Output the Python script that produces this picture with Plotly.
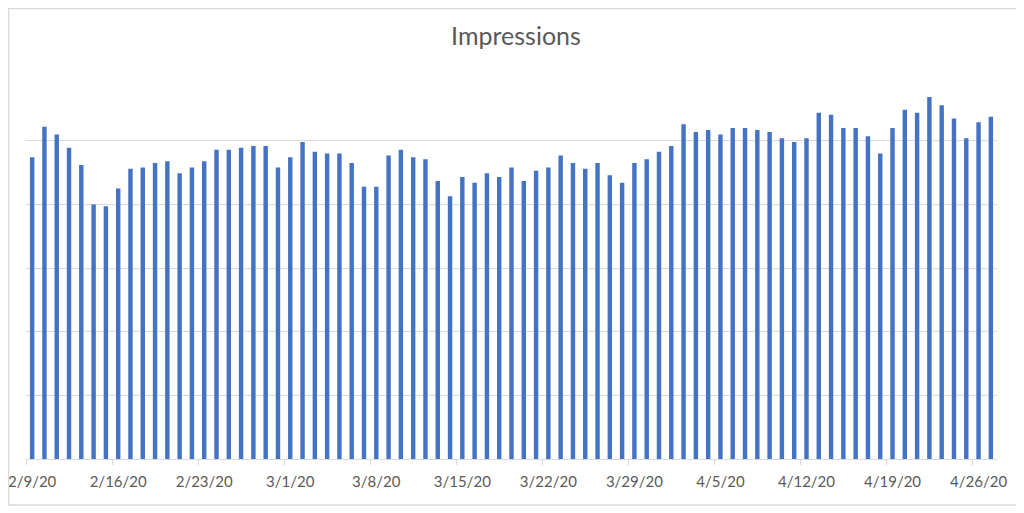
import pandas as pd
import plotly.graph_objects as go

# daily impressions (units = gridline steps, axis unlabeled)
start_date = "2020-02-09"
impressions = [
    4.74, 5.22, 5.10, 4.89, 4.62, 4.00, 3.97, 4.25, 4.56, 4.58,
    4.65, 4.68, 4.49, 4.58, 4.68, 4.86, 4.86, 4.89, 4.92, 4.92,
    4.58, 4.74, 4.98, 4.83, 4.80, 4.80, 4.65, 4.28, 4.28, 4.77,
    4.86, 4.74, 4.71, 4.37, 4.13, 4.43, 4.34, 4.49, 4.43, 4.58,
    4.37, 4.53, 4.58, 4.77, 4.65, 4.56, 4.65, 4.46, 4.34, 4.65,
    4.71, 4.83, 4.92, 5.26, 5.14, 5.17, 5.10, 5.20, 5.20, 5.17,
    5.14, 5.04, 4.98, 5.04, 5.44, 5.41, 5.20, 5.20, 5.07, 4.80,
    5.20, 5.49, 5.44, 5.69, 5.56, 5.35, 5.04, 5.29, 5.38,
]
tick_labels = ["2/9/20", "2/16/20", "2/23/20", "3/1/20", "3/8/20", "3/15/20",
               "3/22/20", "3/29/20", "4/5/20", "4/12/20", "4/19/20", "4/26/20"]

dates = pd.date_range(start_date, periods=len(impressions), freq="D")
label_dates = dates[::7]
half_day = pd.Timedelta(hours=12)
grey = "#D9D9D9"
text_grey = "#595959"

fig = go.Figure()
fig.add_trace(go.Bar(
    x=dates, y=impressions,
    width=0.36 * 86400000,
    marker_color="#4472C4", marker_line_width=0,
))

# page body has an 8px margin, so the figure is a bit smaller than the window
fig.update_layout(
    width=1016, height=505,
    margin=dict(l=18, r=27, t=69, b=54, autoexpand=False),
    paper_bgcolor="white", plot_bgcolor="white",
    showlegend=False,
    title=dict(text="Impressions", x=0.5, xanchor="center", y=1 - 28 / 505, yanchor="middle",
               yref="container", font=dict(family="Lato", size=25, color=text_grey)),
    font=dict(family="Lato", color=text_grey),
)

fig.update_xaxes(
    type="date", automargin=False, ticklabeloverflow="allow",
    range=[dates[0] - half_day, dates[-1] + half_day],
    tickvals=label_dates, ticktext=tick_labels,
    ticks="", tickfont=dict(size=15, color=text_grey), ticklabelstandoff=9,
    showgrid=False, showline=True, linecolor=grey, linewidth=1,
    minor=dict(tickvals=label_dates - half_day, ticks="outside",
               ticklen=5, tickcolor=grey, showgrid=False),
)
fig.update_yaxes(
    range=[0, 6.003], dtick=1, showticklabels=False, automargin=False,
    showgrid=True, gridcolor=grey, gridwidth=1, zeroline=False,
)

# chart border like the spreadsheet chart frame
fig.add_shape(type="rect", xref="paper", yref="paper",
              x0=-0.018, x1=1.0236, y0=-0.1204, y1=1.1793,
              line=dict(color=grey, width=1.5))

fig.write_html("out.html")
